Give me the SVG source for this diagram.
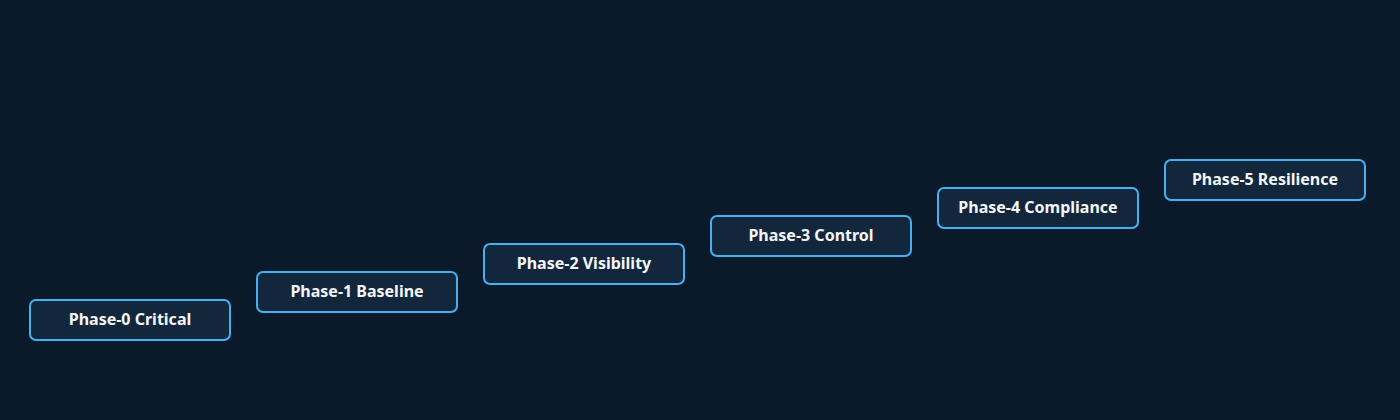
<svg xmlns="http://www.w3.org/2000/svg" width="1400" height="420" viewBox="0 0 1400 420">
<style>
.bg{fill:#0b1a2b}
.box{fill:#12263c;stroke:#45b0f2;stroke-width:2}
.lbl{font-family:"Noto Sans","Open Sans",sans-serif;font-weight:bold;font-size:16px;fill:#f4f6f8;text-anchor:middle;dominant-baseline:central}
</style>
<rect class="bg" x="0" y="0" width="1400" height="420"/>
<g id="connectors"></g>
<g id="phase0"><rect class="box" x="30" y="300" width="200" height="40" rx="6"/><text class="lbl" x="130" y="318.5">Phase-0 Critical</text></g>
<g id="phase1"><rect class="box" x="257" y="272" width="200" height="40" rx="6"/><text class="lbl" x="357" y="290.5">Phase-1 Baseline</text></g>
<g id="phase2"><rect class="box" x="484" y="244" width="200" height="40" rx="6"/><text class="lbl" x="584" y="262.5">Phase-2 Visibility</text></g>
<g id="phase3"><rect class="box" x="711" y="216" width="200" height="40" rx="6"/><text class="lbl" x="811" y="234.5">Phase-3 Control</text></g>
<g id="phase4"><rect class="box" x="938" y="188" width="200" height="40" rx="6"/><text class="lbl" x="1038" y="206.5">Phase-4 Compliance</text></g>
<g id="phase5"><rect class="box" x="1165" y="160" width="200" height="40" rx="6"/><text class="lbl" x="1265" y="178.5">Phase-5 Resilience</text></g>
</svg>
